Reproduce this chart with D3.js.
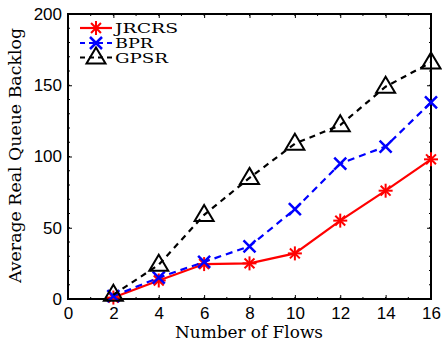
<!DOCTYPE html>
<html>
<head>
<meta charset="utf-8">
<script src="https://cdn.jsdelivr.net/npm/d3@7"></script>
<style>
  body { margin: 0; background: #fff; }
  svg { display: block; }
</style>
</head>
<body>
<div id="app"></div>
<script>
const flows = [2, 4, 6, 8, 10, 12, 14, 16];
const jrcrs = [1, 13, 24.5, 25, 32, 55, 76, 98];
const bpr = [2, 15, 26, 37, 63, 95, 107, 138];
const gpsr = [3, 24, 59, 85, 109, 122, 149, 166];
const xTicks = [0, 2, 4, 6, 8, 10, 12, 14, 16];
const yTicks = [0, 50, 100, 150, 200];

const chart = () => {
  const width = 442;
  const height = 345;
  const pLeft = 68, pRight = 431, pTop = 14, pBottom = 299;
  const serif = "'DejaVu Serif', 'Liberation Serif', serif";

  const svg = d3.create("svg").attr("width", width).attr("height", height);

  const x = d3.scaleLinear().domain([0, 16]).range([pLeft, pRight]);
  const y = d3.scaleLinear().domain([0, 200]).range([pBottom, pTop]);

  // minor ticks
  const minor = svg.append("g").attr("stroke", "#000").attr("stroke-width", 1);
  d3.range(0, 201, 10).forEach(v => {
    minor.append("line").attr("x1", pLeft).attr("x2", pLeft + 2).attr("y1", y(v)).attr("y2", y(v));
    minor.append("line").attr("x1", pRight).attr("x2", pRight - 2).attr("y1", y(v)).attr("y2", y(v));
  });
  d3.range(0, 17, 1).forEach(v => {
    minor.append("line").attr("y1", pBottom).attr("y2", pBottom - 2).attr("x1", x(v)).attr("x2", x(v));
    minor.append("line").attr("y1", pTop).attr("y2", pTop + 2).attr("x1", x(v)).attr("x2", x(v));
  });

  svg.append("g")
    .attr("transform", `translate(0,${pBottom})`)
    .call(d3.axisBottom(x).tickValues(xTicks).tickSize(-4).tickPadding(8).tickSizeOuter(0));
  svg.append("g")
    .attr("transform", `translate(${pLeft},0)`)
    .call(d3.axisLeft(y).tickValues(yTicks).tickSize(-4).tickPadding(6).tickSizeOuter(0));
  svg.append("g")
    .attr("transform", `translate(0,${pTop})`)
    .call(d3.axisTop(x).tickValues(xTicks).tickSize(-4).tickFormat("").tickSizeOuter(0));
  svg.append("g")
    .attr("transform", `translate(${pRight},0)`)
    .call(d3.axisRight(y).tickValues(yTicks).tickSize(-4).tickFormat("").tickSizeOuter(0));

  svg.selectAll(".domain").remove();
  svg.selectAll(".tick line").attr("stroke", "#000").attr("stroke-width", 1);
  svg.selectAll(".tick text")
    .style("font-family", "'Liberation Sans', Arial, sans-serif")
    .style("font-size", "17px")
    .attr("fill", "#000");

  svg.append("rect")
    .attr("x", pLeft).attr("y", pTop)
    .attr("width", pRight - pLeft).attr("height", pBottom - pTop)
    .attr("fill", "none").attr("stroke", "#000").attr("stroke-width", 2);

  const line = d3.line().x((d, i) => x(flows[i])).y(d => y(d));

  const series = [
    { name: "JRCRS", values: jrcrs, color: "#ff0000", dash: null, marker: "star", tl: 63 },
    { name: "BPR", values: bpr, color: "#0000ff", dash: "7,5", marker: "x", tl: 38 },
    { name: "GPSR", values: gpsr, color: "#000000", dash: "6,5", marker: "tri", tl: 53 },
  ];

  const drawMarker = (g, type, cx, cy, color) => {
    if (type === "star") {
      const r = 7;
      [0, 45, 90, 135].forEach(a => {
        const rad = a * Math.PI / 180;
        g.append("line")
          .attr("x1", cx - r * Math.cos(rad)).attr("y1", cy - r * Math.sin(rad))
          .attr("x2", cx + r * Math.cos(rad)).attr("y2", cy + r * Math.sin(rad))
          .attr("stroke", color).attr("stroke-width", 2);
      });
    } else if (type === "x") {
      const r = 6;
      g.append("path")
        .attr("d", `M${cx - r},${cy - r}L${cx + r},${cy + r}M${cx - r},${cy + r}L${cx + r},${cy - r}`)
        .attr("stroke", color).attr("stroke-width", 2.5).attr("fill", "none");
    } else {
      const r = 10;
      g.append("path")
        .attr("d", `M${cx},${cy - r}L${cx + r * 0.95},${cy + r * 0.6}L${cx - r * 0.95},${cy + r * 0.6}Z`)
        .attr("stroke", color).attr("stroke-width", 2).attr("fill", "none");
    }
  };

  series.forEach(s => {
    const g = svg.append("g");
    g.append("path")
      .attr("d", line(s.values))
      .attr("fill", "none")
      .attr("stroke", s.color)
      .attr("stroke-width", 2.2)
      .attr("stroke-dasharray", s.dash);
    s.values.forEach((v, i) => drawMarker(g, s.marker, x(flows[i]), y(v), s.color));
  });

  // legend
  const legendY = [28, 43, 57.5];
  series.forEach((s, i) => {
    const g = svg.append("g");
    g.append("line")
      .attr("x1", 80).attr("x2", 112)
      .attr("y1", legendY[i]).attr("y2", legendY[i])
      .attr("stroke", s.color).attr("stroke-width", 2.2)
      .attr("stroke-dasharray", s.dash ? "5,4" : null);
    drawMarker(g, s.marker, 96, legendY[i], s.color);
    g.append("text")
      .attr("x", 115).attr("y", legendY[i] + 5)
      .text(s.name)
      .attr("textLength", s.tl)
      .attr("lengthAdjust", "spacingAndGlyphs")
      .style("font-family", serif)
      .style("font-size", "13px")
      .attr("fill", "#000");
  });

  svg.append("text")
    .text("Number of Flows")
    .attr("x", 175).attr("y", 338)
    .attr("textLength", 148)
    .attr("lengthAdjust", "spacingAndGlyphs")
    .style("font-family", serif)
    .style("font-size", "16px");

  svg.append("text")
    .text("Average Real Queue Backlog")
    .attr("transform", "translate(21,283) rotate(-90)")
    .attr("textLength", 255)
    .attr("lengthAdjust", "spacingAndGlyphs")
    .style("font-family", serif)
    .style("font-size", "16px");

  return svg.node();
};

d3.select("#app").append(chart);
</script>
</body>
</html>
